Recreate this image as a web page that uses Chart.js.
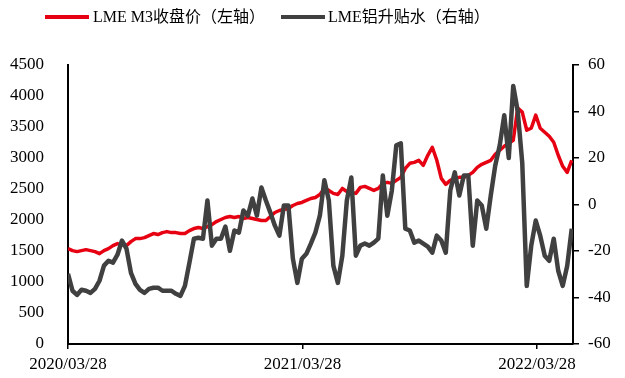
<!DOCTYPE html>
<html>
<head>
<meta charset="utf-8">
<title>LME</title>
<script src="https://cdn.jsdelivr.net/npm/chart.js@4.4.1/dist/chart.umd.min.js"></script>
<style>
body{margin:0;background:#fff;}
#wrap{position:relative;width:625px;height:378px;}
.legLine{position:absolute;top:15px;width:44px;height:4px;}
.legText{position:absolute;top:6px;height:22px;line-height:22px;font-size:16px;font-family:"Liberation Serif","Noto Sans CJK SC",serif;color:#000;white-space:nowrap;}
</style>
</head>
<body>
<div id="wrap">
  <div class="legLine" style="left:45px;background:#e60012;"></div>
  <div class="legText" style="left:93px;">LME M3收盘价（左轴）</div>
  <div class="legLine" style="left:281px;background:#404040;"></div>
  <div class="legText" style="left:328px;">LME铝升贴水（右轴）</div>
  <canvas id="lmeChart" width="625" height="378"></canvas>
</div>
<script>
//Data (weekly, from 2020/03/28)
var startDate = '2020/03/28';
var stepDays = 7;
var tickLabels = ['2020/03/28', '2021/03/28', '2022/03/28'];

//LME M3 close, left axis
var m3Close = [
    1538,1506,1490,1506,1522,1506,1490,1457,1506,1538,1587,1619,1603,
    1587,1651,1700,1700,1716,1748,1781,1765,1797,1813,1797,1797,1781,
    1781,1829,1862,1878,1862,1894,1926,1975,2008,2040,2056,2040,2056,
    2024,2040,2024,2008,1991,1991,2056,2121,2153,2169,2186,2234,2266,
    2283,2315,2347,2364,2412,2509,2477,2429,2412,2509,2461,2445,2429,
    2526,2542,2509,2477,2509,2590,2607,2590,2639,2688,2833,2914,2930,
    2963,2882,3044,3173,2963,2671,2574,2639,2671,2688,2688,2720,2768,
    2849,2898,2930,2963,3060,3125,3189,3238,3286,3805,3740,3448,3480,
    3691,3480,3416,3351,3254,3044,2866,2768,2963
];

//LME aluminium spread, right axis
var spread = [
    -29.8,-37.1,-38.9,-36.7,-37.1,-38,-36.3,-32.8,-26.3,-24.2,-25,-21.6,-15.5,
    -19,-29.4,-34.1,-36.7,-38,-36.3,-35.8,-35.8,-37.1,-37.1,-37.1,-38.4,-39.3,
    -35,-25,-14.7,-14.3,-14.7,1.7,-17.7,-14.7,-14.7,-9.5,-19.9,-11.2,-12.1,
    -2.6,-4.8,2.6,-4.8,7.3,1.7,-3.5,-9.1,-13.4,-0.4,-0.4,-23.3,-33.7,
    -23.3,-21.2,-16.8,-12.1,-4.8,10.4,1.7,-26.3,-33.7,-22,1.7,11.6,-22,
    -17.7,-16.8,-17.7,-16.4,-14.7,12.5,-4.8,6,25.5,26.3,-10.4,-11.2,-16.4,
    -15.5,-16.8,-18.1,-20.7,-13.4,-15.5,-20.7,6,13.8,3.9,12.5,12.5,-17.7,
    1.7,-0.4,-10.4,3.9,16.8,25.5,38.4,20,51,40,18,-35,-17.7,
    -6.9,-13.4,-22,-24.2,-14.7,-28.5,-35,-26.3,-10.4
];

function dayOf(s){
    var p = s.split('/');
    var p0 = startDate.split('/');
    return Math.round((Date.UTC(p[0], p[1]-1, p[2]) - Date.UTC(p0[0], p0[1]-1, p0[2])) / 86400000);
}
var tickDays = tickLabels.map(dayOf);

function toPoints(arr){
    var pts = [];
    for(var i=0;i<arr.length;i++){
        pts.push({x: i*stepDays, y: arr[i]});
    }
    return pts;
}

var axisFont = {family: '"Liberation Serif", serif', size: 17};
var plainNum = function(v){ return String(v); };

//Chart js
var ctx = document.getElementById('lmeChart').getContext('2d');
var lmeChart = new Chart(ctx, {
    type: 'line',
    data: {
        datasets: [{
            label: 'LME M3收盘价（左轴）',
            data: toPoints(m3Close),
            yAxisID: 'yL',
            borderColor: '#e60012',
            backgroundColor: '#e60012',
            borderWidth: 3.5,
            order: 1
        }, {
            label: 'LME铝升贴水（右轴）',
            data: toPoints(spread),
            yAxisID: 'yR',
            borderColor: '#404040',
            backgroundColor: '#404040',
            borderWidth: 4.5,
            order: 0
        }]
    },
    options: {
        responsive: false,
        animation: false,
        layout: {padding: {top: 65, left: 0, right: 0, bottom: 0}},
        elements: {point: {radius: 0}, line: {tension: 0, borderJoinStyle: 'round'}},
        plugins: {legend: {display: false}, tooltip: {enabled: false}},
        scales: {
            x: {
                type: 'linear',
                min: 0,
                max: 786,
                afterBuildTicks: function(axis){
                    axis.ticks = tickDays.map(function(d){ return {value: d}; });
                },
                afterFit: function(s){ s.height = 34; },
                grid: {display: true, drawOnChartArea: false, drawTicks: true, tickLength: 5, color: '#000', lineWidth: 1.5},
                border: {display: true, color: '#000', width: 2},
                ticks: {
                    autoSkip: false,
                    maxRotation: 0,
                    padding: 5,
                    color: '#000',
                    font: axisFont,
                    callback: function(v){
                        var i = tickDays.indexOf(v);
                        return i < 0 ? '' : tickLabels[i];
                    }
                }
            },
            yL: {
                position: 'left',
                min: 0,
                max: 4500,
                afterFit: function(s){ s.width = 68; },
                grid: {display: false},
                border: {display: true, color: '#000', width: 2},
                ticks: {stepSize: 500, padding: 16, color: '#000', font: axisFont, callback: plainNum}
            },
            yR: {
                position: 'right',
                min: -60,
                max: 60,
                afterFit: function(s){ s.width = 52; },
                grid: {display: true, drawOnChartArea: false, drawTicks: true, tickLength: 6, color: '#000', lineWidth: 1.5},
                border: {display: true, color: '#000', width: 2},
                ticks: {stepSize: 20, padding: 9, color: '#000', font: axisFont, callback: plainNum}
            }
        }
    }
});
</script>
</body>
</html>
